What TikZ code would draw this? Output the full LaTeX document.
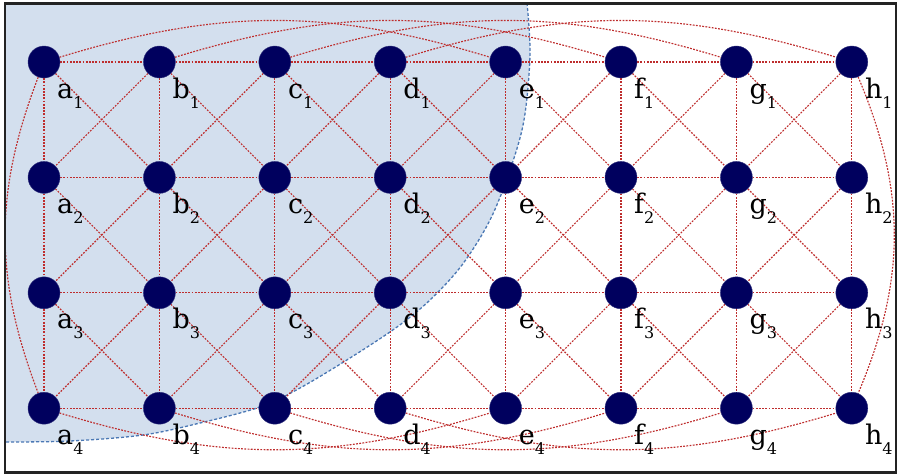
\documentclass[tikz,border=0pt]{standalone}
\usepackage{fontspec}
\setmainfont{DejaVu Serif}
\definecolor{navy}{RGB}{0,0,94}
\definecolor{edgered}{RGB}{190,45,45}
\definecolor{regionfill}{RGB}{211,223,238}
\definecolor{regionline}{RGB}{75,120,180}
\definecolor{framegray}{RGB}{35,35,35}
\pgfdeclarelayer{regionlayer}
\pgfdeclarelayer{edgelayer}
\pgfsetlayers{regionlayer,edgelayer,main}
\tikzset{
  vert/.style={circle,fill=navy,draw=navy!80!white,line width=0.4pt,minimum size=32pt,inner sep=0pt},
  lbl/.style={inner sep=0pt,anchor=base west,text=black},
  link/.style={draw=edgered,line width=1.15pt,dash pattern=on 1.8pt off 1.4pt},
  regionborder/.style={draw=regionline,line width=1.3pt,dash pattern=on 3pt off 2pt},
}
\newcommand{\vlab}[2]{{\fontsize{27}{27}\selectfont #1}\raisebox{-10pt}{\fontsize{16}{16}\selectfont #2}}
\begin{document}
\begin{tikzpicture}[x=1pt,y=-1pt]
\useasboundingbox (0,0) rectangle (899,475);
% vertices
\foreach \c [count=\i from 0] in {a,b,c,d,e,f,g,h}
  \foreach \r in {1,2,3,4}
    \node[vert] (\c\r) at ({44+115.4*\i},{62+115.4*(\r-1)}) {};
% labels
\foreach \c [count=\i from 0] in {a,b,c,d,e,f,g,h}
  \foreach \r in {1,2,3,4}
    \node[lbl] (l\c\r) at ({57+115.4*\i},{98+115.4*(\r-1)}) {\vlab{\c}{\r}};
% shaded region
\begin{pgfonlayer}{regionlayer}
\fill[regionfill] (5,3) -- plot[smooth,tension=0.55] coordinates {(527,3) (530,55) (524,120) (510,170) (490,220) (462,265) (430,300) (397,327) (350,358) (300,388) (260,407) (200,423) (143,435) (70,441) (5,442)} -- cycle;
\draw[regionborder] plot[smooth,tension=0.55] coordinates {(527,3) (530,55) (524,120) (510,170) (490,220) (462,265) (430,300) (397,327) (350,358) (300,388) (260,407) (200,423) (143,435) (70,441) (5,442)};
\end{pgfonlayer}
% edges
\begin{pgfonlayer}{edgelayer}
\foreach \c/\n in {a/b,b/c,c/d,d/e,e/f,f/g,g/h}
  \foreach \r in {1,2,3,4}
    \draw[link] (\c\r) -- (\n\r);
\foreach \c in {a,b,c,d,e,f,g,h}
  \foreach \r/\s in {1/2,2/3,3/4}
    \draw[link] (\c\r) -- (\c\s);
\foreach \c/\n in {a/b,b/c,c/d,d/e,e/f,f/g,g/h}
  \foreach \r/\s in {1/2,2/3,3/4}
    {\draw[link] (\c\r) -- (\n\s);
     \draw[link] (\n\r) -- (\c\s);}
\foreach \c/\n in {a/e,b/f,c/g,d/h}
  {\draw[link] (\c1) to[bend left=17] (\n1);
   \draw[link] (\c4) to[bend right=17] (\n4);}
\draw[link] (a1) to[bend right=21] (a4);
\draw[link] (h1) to[bend left=23] (h4);
\end{pgfonlayer}
% frame
\draw[framegray,line width=2.5pt] (5,3.5) rectangle (896,472.5);
\end{tikzpicture}
\end{document}
